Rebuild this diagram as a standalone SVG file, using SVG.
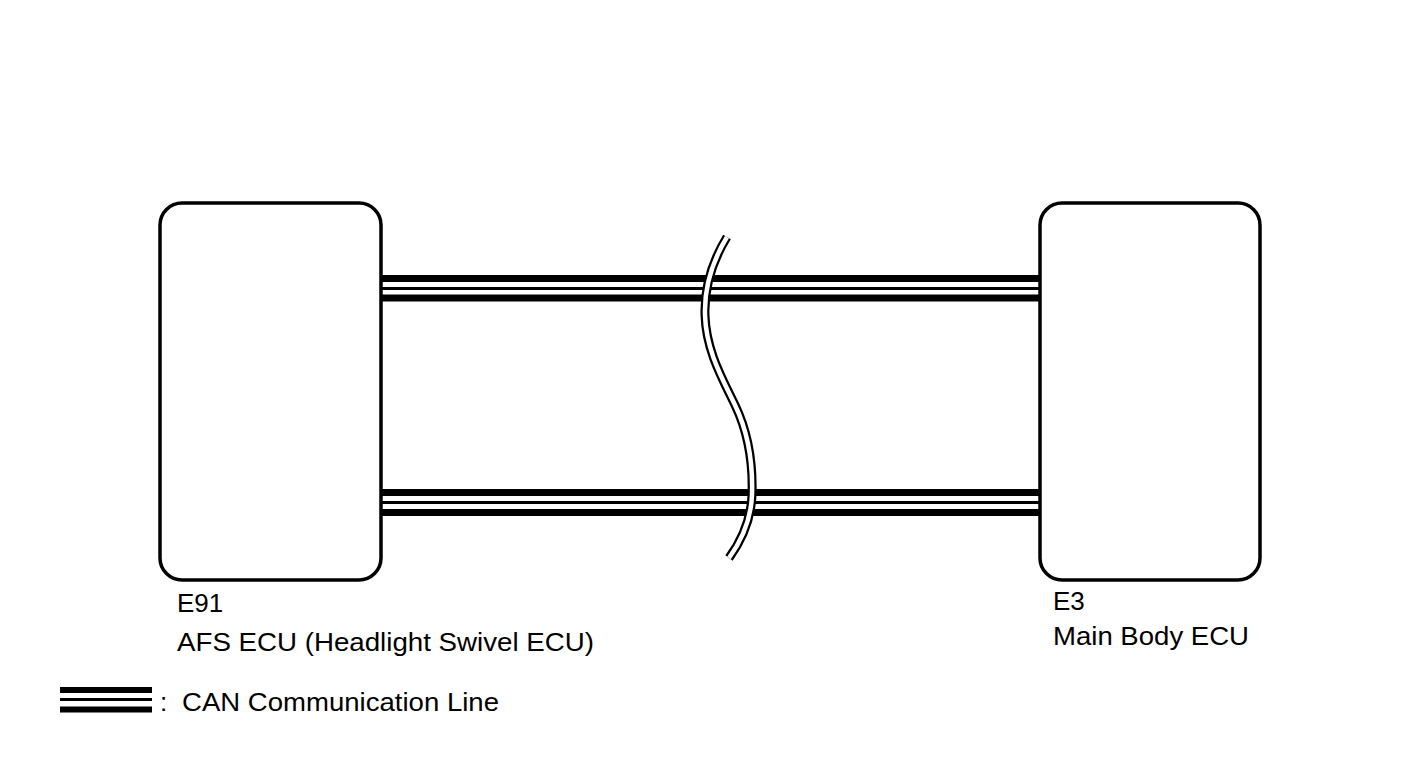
<svg xmlns="http://www.w3.org/2000/svg" width="1424" height="759" viewBox="0 0 1424 759">
<style>
.box{fill:#fff;stroke:#000;stroke-width:3.5}
.thick{stroke:#000;stroke-width:7;fill:none}
.thin{stroke:#000;stroke-width:3;fill:none}
.lbl{font-family:"Liberation Sans",Arial,sans-serif;font-size:26px;fill:#000}
.brk1{fill:none;stroke:#000;stroke-width:9}
.brk2{fill:none;stroke:#fff;stroke-width:4.5}
</style>
<rect width="1424" height="759" fill="#fff"/>
<g id="connectors">
  <g id="can-top">
    <line class="thick" x1="381" y1="278.5" x2="1040" y2="278.5"/>
    <line class="thin" x1="381" y1="288.5" x2="1040" y2="288.5"/>
    <line class="thick" x1="381" y1="298" x2="1040" y2="298"/>
  </g>
  <g id="can-bottom">
    <line class="thick" x1="378" y1="492.5" x2="1040" y2="492.5"/>
    <line class="thin" x1="378" y1="502.5" x2="1040" y2="502.5"/>
    <line class="thick" x1="378" y1="512.5" x2="1040" y2="512.5"/>
  </g>
  <g id="break">
    <path class="brk1" d="M727,237 C713,260 704,285 705,315 C706,350 722,378 735,405 C748,432 753,465 752,495 C751,520 742,540 729,558"/>
    <path class="brk2" d="M727,237 C713,260 704,285 705,315 C706,350 722,378 735,405 C748,432 753,465 752,495 C751,520 742,540 729,558"/>
  </g>
</g>
<g id="node-e91">
  <rect class="box" x="160" y="203" width="221" height="377" rx="22" ry="22"/>
  <text class="lbl" x="177" y="612">E91</text>
  <text class="lbl" x="177" y="651" textLength="417" lengthAdjust="spacingAndGlyphs">AFS ECU (Headlight Swivel ECU)</text>
</g>
<g id="node-e3">
  <rect class="box" x="1040" y="203" width="220" height="377" rx="22" ry="22"/>
  <text class="lbl" x="1053" y="610">E3</text>
  <text class="lbl" x="1053" y="645" textLength="196" lengthAdjust="spacingAndGlyphs">Main Body ECU</text>
</g>
<g id="legend">
  <line class="thick" x1="60" y1="690" x2="152" y2="690" style="stroke-width:6"/>
  <line class="thin" x1="60" y1="699.5" x2="152" y2="699.5"/>
  <line class="thick" x1="60" y1="709.5" x2="152" y2="709.5" style="stroke-width:6"/>
  <text class="lbl" x="160" y="711">:</text>
  <text class="lbl" x="182" y="711" textLength="317" lengthAdjust="spacingAndGlyphs">CAN Communication Line</text>
</g>
</svg>
